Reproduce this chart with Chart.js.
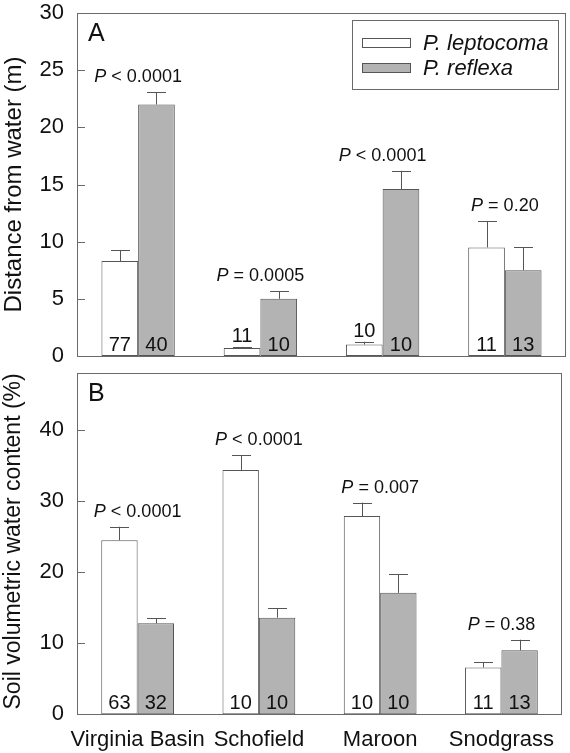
<!DOCTYPE html>
<html>
<head>
<meta charset="utf-8">
<script src="https://cdn.jsdelivr.net/npm/chart.js@4.4.0/dist/chart.umd.min.js"></script>
<style>
  html, body { margin: 0; padding: 0; background: #fff; }
  #boxA { position: absolute; left: 0; top: 0; width: 566px; height: 369px; }
  #boxB { position: absolute; left: 0; top: 360px; width: 566px; height: 393px; }
</style>
</head>
<body>
<div id="boxA"><canvas id="chartA"></canvas></div>
<div id="boxB"><canvas id="chartB"></canvas></div>
<script>
const sites = ['Virginia Basin', 'Schofield', 'Maroon', 'Snodgrass'];
const speciesNames = ['P. leptocoma', 'P. reflexa'];

// panel A - distance from water (m)
const distLepto = [8.3, 0.7, 1.0, 9.5];
const distLeptoSE = [0.95, 0.1, 0.25, 2.3];
const distReflexa = [22.0, 5.0, 14.6, 7.5];
const distReflexaSE = [1.05, 0.65, 1.6, 2.0];
const distLeptoN = [77, 11, 10, 11];
const distReflexaN = [40, 10, 10, 13];
const distP = ['< 0.0001', '= 0.0005', '< 0.0001', '= 0.20'];
const distTicks = [0, 5, 10, 15, 20, 25, 30];

// panel B - soil volumetric water content (%)
const soilLepto = [24.5, 34.4, 27.9, 6.6];
const soilLeptoSE = [1.9, 2.1, 1.9, 0.7];
const soilReflexa = [12.8, 13.6, 17.1, 9.0];
const soilReflexaSE = [0.7, 1.3, 2.6, 1.5];
const soilLeptoN = [63, 10, 10, 11];
const soilReflexaN = [32, 10, 10, 13];
const soilP = ['< 0.0001', '< 0.0001', '= 0.007', '= 0.38'];
const soilTicks = [0, 10, 20, 30, 40];

const FONT = "'Liberation Sans', Arial, sans-serif";
const WHITE = '#ffffff';
const GREY = '#b3b3b3';
const EDGE = '#555555';
const FRAME = '#6a6a6a';
const INK = '#111111';

// frame, inward ticks, error bars, P values, n and panel letter
const panelDecor = {
  id: 'decor',
  afterDatasetsDraw(chart, args, opts) {
    const ctx = chart.ctx;
    const ca = chart.chartArea;
    const ys = chart.scales.y;
    ctx.save();

    // frame + inward y ticks
    ctx.strokeStyle = FRAME;
    ctx.lineWidth = 1;
    ctx.strokeRect(Math.round(ca.left) + 0.5, Math.round(ca.top) + 0.5,
      Math.round(ca.right - ca.left) - 1, Math.round(ca.bottom - ca.top));
    ys.ticks.forEach(t => {
      const py = Math.round(ys.getPixelForValue(t.value)) + 0.5;
      ctx.beginPath();
      ctx.moveTo(ca.left, py);
      ctx.lineTo(ca.left + 8, py);
      ctx.stroke();
    });

    // error bars (upper only)
    const errTops = [];
    chart.data.datasets.forEach((ds, di) => {
      const meta = chart.getDatasetMeta(di);
      meta.data.forEach((bar, i) => {
        const top = ys.getPixelForValue(ds.data[i] + opts.se[di][i]);
        errTops[i] = errTops[i] === undefined ? top : Math.min(errTops[i], top);
        const x = Math.round(bar.x) + 0.5;
        ctx.strokeStyle = EDGE;
        ctx.beginPath();
        ctx.moveTo(x, bar.y);
        ctx.lineTo(x, top);
        ctx.moveTo(x - 9.5, Math.round(top) + 0.5);
        ctx.lineTo(x + 9.5, Math.round(top) + 0.5);
        ctx.stroke();

        // sample sizes
        ctx.fillStyle = INK;
        ctx.font = '20px ' + FONT;
        ctx.textAlign = 'center';
        ctx.textBaseline = 'middle';
        let ny = ca.bottom - 12;
        if (ca.bottom - bar.y < 25) ny = top - 11;
        ctx.fillText(String(opts.n[di][i]), bar.x, ny + 1);
      });
    });

    // P values above each group
    const m0 = chart.getDatasetMeta(0).data;
    const m1 = chart.getDatasetMeta(1).data;
    opts.p.forEach((txt, i) => {
      const cx = (m0[i].x + m1[i].x) / 2;
      const by = errTops[i] - 10;
      ctx.textBaseline = 'alphabetic';
      ctx.textAlign = 'left';
      ctx.font = 'italic 18px ' + FONT;
      const wP = ctx.measureText('P').width;
      ctx.font = '18px ' + FONT;
      const rest = ' ' + txt;
      const wR = ctx.measureText(rest).width;
      const x0 = cx - (wP + wR) / 2;
      ctx.font = 'italic 18px ' + FONT;
      ctx.fillText('P', x0, by);
      ctx.font = '18px ' + FONT;
      ctx.fillText(rest, x0 + wP, by);
    });

    // panel letter
    ctx.fillStyle = INK;
    ctx.font = '25px ' + FONT;
    ctx.textAlign = 'left';
    ctx.textBaseline = 'alphabetic';
    ctx.fillText(opts.letter, ca.left + 11, ca.top + 28);

    // legend box
    if (opts.legend) {
      const lx = ca.left + 275, ly = ca.top + 7;
      ctx.fillStyle = '#fff';
      ctx.fillRect(lx, ly, 206, 69);
      ctx.strokeStyle = FRAME;
      ctx.strokeRect(lx + 0.5, ly + 0.5, 206, 69);
      chart.data.datasets.forEach((ds, di) => {
        const cy = ly + 23 + di * 25;
        ctx.fillStyle = ds.backgroundColor;
        ctx.fillRect(lx + 10.5, cy - 4.5, 48, 9);
        ctx.strokeStyle = EDGE;
        ctx.strokeRect(lx + 10.5, cy - 4.5, 48, 9);
        ctx.fillStyle = INK;
        ctx.font = 'italic 22px ' + FONT;
        ctx.textBaseline = 'middle';
        ctx.fillText(ds.label, lx + 71, cy + 1);
      });
    }
    ctx.restore();
  }
};

function makePanel(id, cfg) {
  return new Chart(document.getElementById(id), {
    type: 'bar',
    data: {
      labels: sites,
      datasets: [
        { label: speciesNames[0], data: cfg.lepto, backgroundColor: WHITE, borderColor: EDGE, borderWidth: 1 },
        { label: speciesNames[1], data: cfg.reflexa, backgroundColor: GREY, borderColor: EDGE, borderWidth: 1 }
      ]
    },
    options: {
      responsive: true,
      maintainAspectRatio: false,
      animation: false,
      devicePixelRatio: 1,
      layout: { padding: 0 },
      datasets: { bar: { categoryPercentage: 0.6, barPercentage: 1.0, borderSkipped: false } },
      plugins: {
        legend: { display: false },
        tooltip: { enabled: false },
        decor: cfg.decor
      },
      scales: {
        x: {
          grid: { display: false, drawTicks: false },
          border: { display: false },
          ticks: { display: cfg.showX, color: INK, font: { family: FONT, size: 22 }, padding: 12,
                   maxRotation: 0, minRotation: 0, autoSkip: false },
          afterFit: s => { s.height = cfg.xHeight; }
        },
        y: {
          min: 0,
          max: cfg.max,
          afterBuildTicks: s => { s.ticks = cfg.ticks.map(v => ({ value: v })); },
          grid: { display: false, drawTicks: false },
          border: { display: false },
          ticks: { color: INK, font: { family: FONT, size: 22 }, padding: 13 },
          title: { display: true, text: cfg.title, align: cfg.titleAlign, color: INK,
                   font: { family: FONT, size: cfg.titleSize }, padding: 0 },
          afterFit: s => {
            s.width = 77;
            s.paddingTop = cfg.padTop;
            s.paddingBottom = cfg.padBottom;
          }
        }
      }
    },
    plugins: [panelDecor]
  });
}

makePanel('chartA', {
  lepto: distLepto, reflexa: distReflexa, max: 30, ticks: distTicks,
  title: 'Distance from water (m)', titleSize: 24, titleAlign: 'center',
  showX: false, xHeight: 0, padTop: 13, padBottom: 13,
  decor: { se: [distLeptoSE, distReflexaSE], n: [distLeptoN, distReflexaN], p: distP, letter: 'A', legend: true }
});

makePanel('chartB', {
  lepto: soilLepto, reflexa: soilReflexa, max: 48, ticks: soilTicks,
  title: 'Soil volumetric water content (%)', titleSize: 23, titleAlign: 'end',
  showX: true, xHeight: 38.7, padTop: 13.3, padBottom: 13,
  decor: { se: [soilLeptoSE, soilReflexaSE], n: [soilLeptoN, soilReflexaN], p: soilP, letter: 'B', legend: false }
});
</script>
</body>
</html>
